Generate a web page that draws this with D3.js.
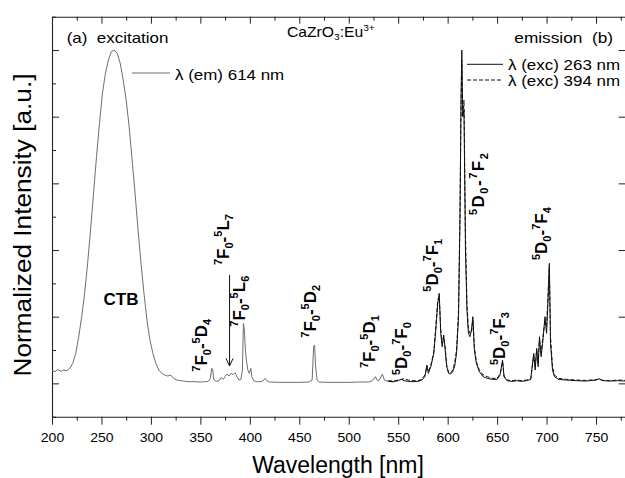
<!DOCTYPE html>
<html><head><meta charset="utf-8">
<script src="https://cdn.jsdelivr.net/npm/d3@7"></script>
<style>
html,body{margin:0;padding:0;background:#fff;}
svg{display:block;font-family:"Liberation Sans",Arial,Helvetica,sans-serif;}
text{white-space:pre;}
</style></head>
<body>
<svg id="chart" width="625" height="478"></svg>
<script>
// ---------- DATA ----------
const excWavelength = [200,203,206,209,212,215,218,221,224,227,230,233,236,239,242,245,248,251,254,257,260,263,266,269,272,275,278,281,284,287,290,293,296,299,302,305,308,311,314,317,320,323,326,330,335,340,345,350,355,358,360,361.5,362.5,363.5,366,369,371,373,375,377,379,381,383,385,387,389,391,392.5,393.5,394.5,395.5,396.5,398,399.5,401,402,404,407,410,413,415.5,417,420,430,440,450,460,463,464.5,465.5,466.5,468,470,480,490,500,510,520,524,527,529,531,534,536,540,545];
const excIntensity = [0.04,0.035,0.042,0.036,0.04,0.038,0.045,0.06,0.09,0.14,0.2,0.27,0.36,0.46,0.57,0.68,0.78,0.87,0.93,0.97,0.995,1.0,0.99,0.96,0.91,0.85,0.77,0.67,0.57,0.46,0.36,0.27,0.19,0.13,0.09,0.06,0.04,0.03,0.025,0.022,0.025,0.015,0.01,0.008,0.006,0.005,0.005,0.004,0.005,0.006,0.015,0.045,0.04,0.012,0.006,0.008,0.018,0.012,0.02,0.028,0.022,0.03,0.026,0.032,0.02,0.01,0.012,0.04,0.18,0.16,0.1,0.07,0.04,0.03,0.045,0.02,0.008,0.005,0.005,0.007,0.015,0.008,0.004,0.003,0.003,0.003,0.004,0.01,0.11,0.115,0.05,0.01,0.004,0.003,0.003,0.003,0.004,0.004,0.008,0.02,0.008,0.01,0.028,0.01,0.006,0.004];

const emWavelength = [540,545,550,553,556,560,565,570,574,577,579,580.5,583,586,588,590,591.5,593,594.5,596,597.5,599,601,603,605,607,609,611,612.5,613.5,614.3,615.2,616.5,618,619.5,621,622.5,624,625.5,627,629,632,636,640,645,650,653,655.5,657,660,665,670,675,680,684,687,688.5,690,691.5,692.8,694.5,696,698.4,700,701.5,702.8,704,706,708,712,720,730,740,750,753,757,765,772,780];
const emExc263 = [0.006,0.005,0.008,0.012,0.008,0.006,0.005,0.006,0.01,0.02,0.055,0.03,0.05,0.09,0.16,0.24,0.27,0.15,0.11,0.145,0.1,0.05,0.03,0.028,0.035,0.05,0.09,0.2,0.5,0.85,1.0,0.8,0.82,0.4,0.22,0.15,0.14,0.16,0.2,0.1,0.06,0.035,0.02,0.015,0.012,0.012,0.025,0.07,0.02,0.008,0.006,0.008,0.006,0.008,0.012,0.09,0.04,0.105,0.05,0.14,0.08,0.12,0.2,0.15,0.25,0.36,0.12,0.04,0.02,0.012,0.01,0.008,0.007,0.01,0.014,0.008,0.007,0.008,0.007];
const emExc394 = [0.008,0.007,0.01,0.012,0.014,0.01,0.008,0.008,0.012,0.025,0.05,0.035,0.055,0.095,0.17,0.25,0.26,0.16,0.12,0.14,0.11,0.055,0.032,0.03,0.04,0.06,0.1,0.22,0.52,0.82,0.97,0.8,0.85,0.45,0.24,0.16,0.15,0.15,0.19,0.11,0.065,0.04,0.025,0.02,0.015,0.015,0.028,0.065,0.022,0.01,0.008,0.01,0.008,0.01,0.014,0.085,0.05,0.1,0.06,0.13,0.09,0.13,0.19,0.17,0.27,0.35,0.14,0.05,0.025,0.015,0.012,0.01,0.009,0.011,0.012,0.009,0.008,0.01,0.009];

const xMajorTicks = [200,250,300,350,400,450,500,550,600,650,700,750];
const xMinorTicks = [225,275,325,375,425,475,525,575,625,675,725,775];
const yMajorTicks = [0,0.2,0.4,0.6,0.8,1.0];
const yMinorTicks = [-0.1,0.1,0.3,0.5,0.7,0.9,1.1];

// transition labels
const labelText = ["^7F_0-^5D_4","^7F_0-^5L_7","^7F_0-^5L_6","^7F_0-^5D_2","^7F_0-^5D_1","^5D_0-^7F_0","^5D_0-^7F_1","^5D_0-^7F_2","^5D_0-^7F_3","^5D_0-^7F_4"];
const labelNm    = [356.5, 378.5, 395, 467, 527, 559, 590, 636.5, 658, 700];
const labelVal   = [0.035, 0.355, 0.17, 0.137, 0.046, 0.025, 0.275, 0.505, 0.055, 0.37];
const labelSpacing = [0, 0, 0, 0, 0, 0, 0, 1.5, 0, 0];

// ---------- CHART ----------
const svg = d3.select("#chart");
const x = d3.scaleLinear().domain([200,780]).range([52,625.7]);
const y = d3.scaleLinear().domain([-0.1,1.1]).range([416.7,16.7]);

const line = d3.line().x(d=>x(d[0])).y(d=>y(d[1]));

const axisColor = "#222";
function styleAxis(g){ g.select(".domain").attr("stroke",axisColor).attr("stroke-width",1.1); g.selectAll(".tick line").attr("stroke",axisColor).attr("stroke-width",1); }

svg.append("g").attr("transform","translate(0,416.7)")
  .call(d3.axisBottom(x).tickValues(xMajorTicks).tickSize(8).tickSizeOuter(0).tickPadding(8).tickFormat(d3.format("d")))
  .call(styleAxis)
  .call(g=>g.selectAll("text").attr("font-size",12.5).attr("fill","#000").attr("font-family","Liberation Sans, Arial").attr("transform","scale(1.12,1)"));
svg.append("g").attr("transform","translate(0,416.7)")
  .call(d3.axisBottom(x).tickValues(xMinorTicks).tickSize(4).tickSizeOuter(0).tickFormat(""))
  .call(styleAxis).call(g=>g.select(".domain").remove());
svg.append("g").attr("transform","translate(0,16.7)")
  .call(d3.axisBottom(x).tickValues(xMajorTicks).tickSize(7).tickSizeOuter(0).tickFormat(""))
  .call(styleAxis);
svg.append("g").attr("transform","translate(0,16.7)")
  .call(d3.axisBottom(x).tickValues(xMinorTicks).tickSize(4).tickSizeOuter(0).tickFormat(""))
  .call(styleAxis).call(g=>g.select(".domain").remove());
svg.append("g").attr("transform","translate(52,0)")
  .call(d3.axisRight(y).tickValues(yMajorTicks).tickSize(7).tickSizeOuter(0).tickFormat(""))
  .call(styleAxis);
svg.append("g").attr("transform","translate(52,0)")
  .call(d3.axisRight(y).tickValues(yMinorTicks).tickSize(4).tickSizeOuter(0).tickFormat(""))
  .call(styleAxis).call(g=>g.select(".domain").remove());
svg.append("g").attr("transform","translate(625.7,0)")
  .call(d3.axisLeft(y).tickValues(yMajorTicks).tickSize(7).tickSizeOuter(0).tickFormat(""))
  .call(styleAxis);

// curves
svg.append("path").datum(d3.zip(excWavelength, excIntensity)).attr("d",line)
  .attr("fill","none").attr("stroke","#6e6e6e").attr("stroke-width",1);
svg.append("path").datum(d3.zip(emWavelength, emExc394)).attr("d",line)
  .attr("fill","none").attr("stroke","#111").attr("stroke-width",1).attr("stroke-dasharray","4,2");
svg.append("path").datum(d3.zip(emWavelength, emExc263)).attr("d",line)
  .attr("fill","none").attr("stroke","#111").attr("stroke-width",1);

// axis titles
svg.append("text").attr("x",338).attr("y",473).attr("text-anchor","middle")
  .attr("font-size",23).text("Wavelength [nm]");
svg.append("text").attr("transform","translate(31,225) rotate(-90)").attr("text-anchor","middle")
  .attr("font-size",23.5).attr("textLength",303).attr("lengthAdjust","spacingAndGlyphs")
  .text("Normalized Intensity [a.u.]");

function htext(tx,ty,str,anchor,size,sx){
  return svg.append("text").attr("transform",`translate(${tx},${ty}) scale(${sx},1)`)
    .attr("text-anchor",anchor).attr("font-size",size).text(str);
}
htext(66.7,43,"(a)  excitation","start",15,1.13);
htext(613,43,"emission  (b)","end",15,1.15);

const title = svg.append("text").attr("transform","translate(287,37) scale(1.08,1)").attr("font-size",14.5);
title.append("tspan").text("CaZrO");
title.append("tspan").attr("font-size",9.5).attr("dy",3).text("3");
title.append("tspan").attr("dy",-3).text(":Eu");
title.append("tspan").attr("font-size",9.5).attr("dy",-6).text("3+");

// legends
svg.append("line").attr("x1",132).attr("x2",170).attr("y1",73).attr("y2",73).attr("stroke","#6e6e6e").attr("stroke-width",1);
htext(175,80,"λ (em) 614 nm","start",15,1.13);
svg.append("line").attr("x1",467).attr("x2",503).attr("y1",64.3).attr("y2",64.3).attr("stroke","#111").attr("stroke-width",1);
htext(508,69.5,"λ (exc) 263 nm","start",15,1.13);
svg.append("line").attr("x1",467).attr("x2",503).attr("y1",80).attr("y2",80).attr("stroke","#111").attr("stroke-width",1).attr("stroke-dasharray","4,2");
htext(508,85.5,"λ (exc) 394 nm","start",15,1.13);

svg.append("text").attr("x",121).attr("y",305).attr("text-anchor","middle").attr("font-size",17).attr("font-weight","bold").text("CTB");

function vlabel(px,py,str,ls){
  const t = svg.append("text").attr("transform",`translate(${px},${py}) rotate(-90)`)
    .attr("font-weight","bold").attr("font-size",17).attr("letter-spacing",ls);
  let cur = 0, i = 0;
  while(i<str.length){
    let ch = str[i], kind = null;
    if(ch==="^"||ch==="_"){ kind = ch; i++; ch = str[i]; }
    const target = kind==="^" ? -7 : kind==="_" ? 4 : 0;
    t.append("tspan").attr("dy",target-cur).attr("font-size",kind?11:17).text(ch);
    cur = target; i++;
  }
}
labelText.forEach((s,i)=>vlabel(x(labelNm[i]), y(labelVal[i]), s, labelSpacing[i]));

const ax = x(379.5);
svg.append("line").attr("x1",ax).attr("x2",ax).attr("y1",y(0.325)).attr("y2",y(0.052)).attr("stroke","#111").attr("stroke-width",1);
svg.append("path").attr("d",`M${ax-3.5},${y(0.075)} L${ax},${y(0.052)} L${ax+3.5},${y(0.075)}`).attr("fill","none").attr("stroke","#111").attr("stroke-width",1);
</script>
</body></html>
